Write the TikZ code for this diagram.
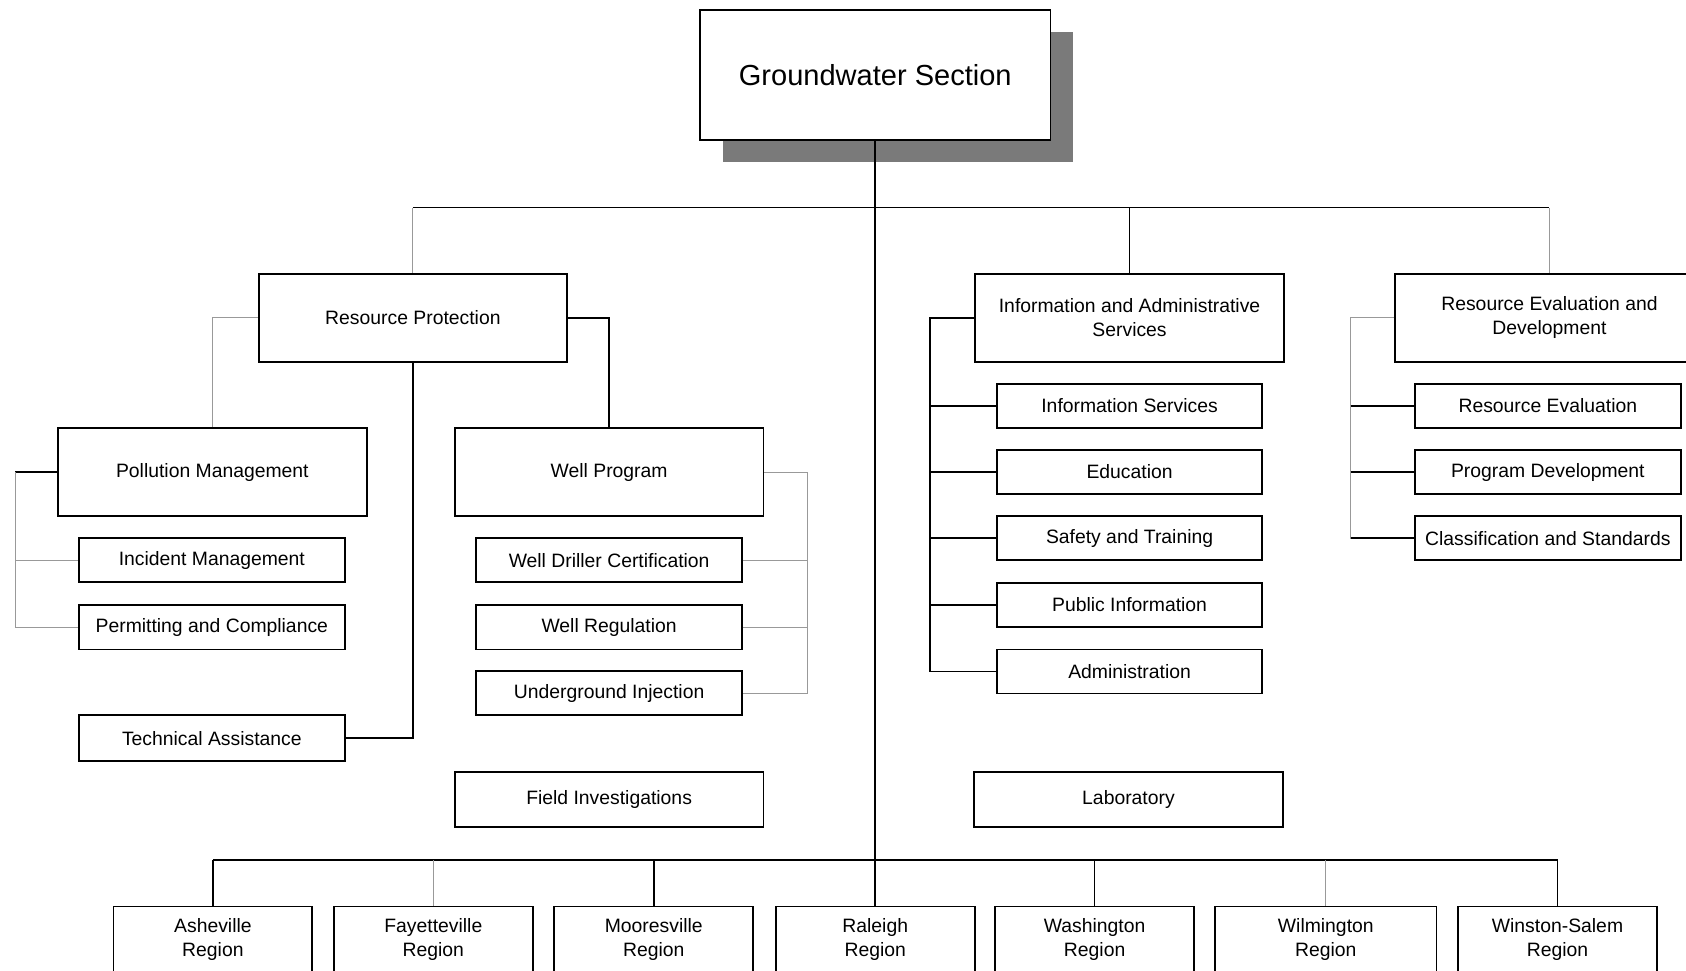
\documentclass[tikz,border=0pt]{standalone}
\usepackage{fontspec}
\setmainfont{Liberation Sans}
\usetikzlibrary{positioning}
\usetikzlibrary{shadows}
\tikzstyle{unit} = [draw, fill=white, line width=1.7pt, inner sep=0pt,
align=center, font=\fontsize{18}{22}\selectfont]
\tikzstyle{dept} = [unit, minimum width=287pt, minimum height=82pt]
\tikzstyle{office} = [unit, minimum width=247pt, minimum height=41pt]
\tikzstyle{region} = [unit, minimum width=185pt, minimum height=62pt]
\tikzstyle{link} = [draw, line width=1.6pt, color=black]
\tikzstyle{faint} = [draw, line width=0.8pt, color=black!40]

\begin{document}
\begin{tikzpicture}[x=1pt, y=-1pt]
    \useasboundingbox (0,0) rectangle (1568,903);
    \clip (0,0) rectangle (1568,903);
    %% Head of section
    \node [unit, minimum width=326pt, minimum height=121pt, font=\fontsize{27}{32}\selectfont,
      drop shadow={shadow xshift=21pt, shadow yshift=-21pt, fill=black!65, opacity=.8}]
      (gs) at (814,69.5) {Groundwater Section};
    %% Branches
    \node [dept] (rp) at (384,295.5) {Resource Protection};
    \node [dept] (ias) at (1050.5,295.5) {Information and Administrative\\Services};
    \node [dept] (redv) at (1441,295.5) {Resource Evaluation and\\Development};
    %% Resource Protection units
    \node [dept] (pm) at (197.5,439) {Pollution Management};
    \node [office] (im) at (197,521) {Incident Management};
    \node [office] (pc) at (197,583.5) {Permitting and Compliance};
    \node [office, minimum height=43pt] (ta) at (197,686.5) {Technical Assistance};
    \node [dept] (wp) at (566.5,439) {Well Program};
    \node [office] (wd) at (566.5,521) {Well Driller Certification};
    \node [office] (wr) at (566.5,583.5) {Well Regulation};
    \node [office] (ui) at (566.5,644.5) {Underground Injection};
    %% Information and Administrative Services units
    \node [office] (is) at (1050.5,377.5) {Information Services};
    \node [office] (edu) at (1050.5,439) {Education};
    \node [office] (st) at (1050.5,500.5) {Safety and Training};
    \node [office] (pi) at (1050.5,562.5) {Public Information};
    \node [office] (adm) at (1050.5,624.5) {Administration};
    %% Resource Evaluation and Development units
    \node [office] (re) at (1439.5,377.5) {Resource Evaluation};
    \node [office] (pd) at (1439.5,439) {Program Development};
    \node [office] (cs) at (1439.5,500.5) {Classification and Standards};
    %% Stand-alone units
    \node [dept, minimum height=51pt] (fi) at (566.5,743.5) {Field Investigations};
    \node [dept, minimum height=51pt] (lab) at (1049.5,743.5) {Laboratory};
    %% Regional offices
    \node [region] (ash) at (198,874) {Asheville\\Region};
    \node [region] (fay) at (403,874) {Fayetteville\\Region};
    \node [region] (moo) at (608,874) {Mooresville\\Region};
    \node [region] (ral) at (814,874) {Raleigh\\Region};
    \node [region] (was) at (1018,874) {Washington\\Region};
    \node [region, minimum width=206pt] (wil) at (1233,874) {Wilmington\\Region};
    \node [region] (win) at (1448.5,874) {Winston-Salem\\Region};
    %% Buses
    \coordinate (topbus) at (814,193);
    \coordinate (botbus) at (814,800);
    \coordinate (pmbus) at (14,439);
    \coordinate (wpbus) at (751,439);
    \coordinate (iasbus) at (865,295.5);
    \coordinate (redbus) at (1256,295.5);
    %% Flows
    \path [link] (gs.south) -- (ral.north);
    \path [link] (rp.north |- topbus) -- (redv.north |- topbus);
    \path [faint] (rp.north) -- (rp.north |- topbus);
    \path [link] (ias.north) -- (ias.north |- topbus);
    \path [faint] (redv.north) -- (redv.north |- topbus);
    \path [faint] (rp.west) -| (pm.north);
    \path [link] (rp.east) -| (wp.north);
    \path [link] (rp.south) |- (ta.east);
    \path [link] (pm.west) -- (pmbus);
    \path [faint] (pmbus) |- (pc.west);
    \path [faint] (im.west -| pmbus) -- (im.west);
    \path [faint] (wp.east) -- (wpbus) |- (ui.east);
    \path [faint] (wd.east) -- (wd.east -| wpbus);
    \path [faint] (wr.east) -- (wr.east -| wpbus);
    \path [link] (ias.west) -- (iasbus) |- (adm.west);
    \foreach \u in {is,edu,st,pi}
      \path [link] (\u.west -| iasbus) -- (\u.west);
    \path [faint] (redv.west) -- (redbus) |- (cs.west);
    \path [link] (re.west -| redbus) -- (re.west);
    \path [link] (pd.west -| redbus) -- (pd.west);
    \path [link] (cs.west -| redbus) -- (cs.west);
    \path [link] (ash.north |- botbus) -- (win.north |- botbus);
    \path [link] (ash.north) -- (ash.north |- botbus);
    \path [faint] (fay.north) -- (fay.north |- botbus);
    \path [link] (moo.north) -- (moo.north |- botbus);
    \path [link] (was.north) -- (was.north |- botbus);
    \path [faint] (wil.north) -- (wil.north |- botbus);
    \path [link] (win.north) -- (win.north |- botbus);
\end{tikzpicture}
\end{document}
